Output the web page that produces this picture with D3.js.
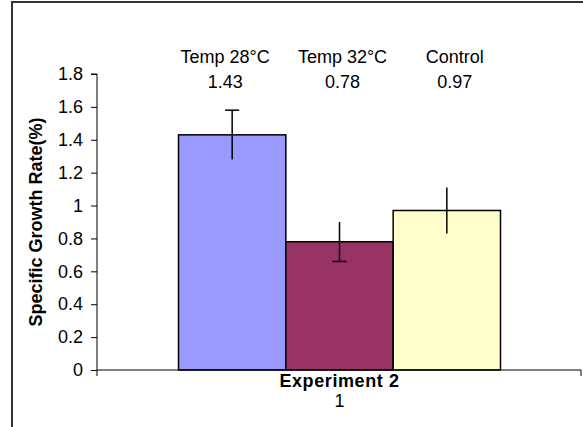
<!DOCTYPE html>
<html><head><meta charset="utf-8">
<script src="https://cdn.jsdelivr.net/npm/d3@7/dist/d3.min.js"></script>
<style>body{margin:0;background:#fff;}svg{display:block;font-family:"Liberation Sans",Arial,sans-serif;}</style>
</head><body>
<svg id="c" width="583" height="427"></svg>
<script>
const groups = ["1"];
const groupTitle = "Experiment 2";
const series = ["Temp 28°C", "Temp 32°C", "Control"];
const values = [1.43, 0.78, 0.97];
const errors = [0.15, 0.12, 0.14];
const capTop = [true, false, false];
const capBottom = [false, true, false];
const colors = ["#9999FF", "#993366", "#FFFFCC"];
const yTicks = [0, 0.2, 0.4, 0.6, 0.8, 1, 1.2, 1.4, 1.6, 1.8];
const yTitle = "Specific Growth Rate(%)";

const svg = d3.select("#c");
const W = 583, H = 427;
const m = {left: 97, right: 1, top: 74, bottom: 57};
const x0 = d3.scaleBand().domain(groups).range([m.left, W - m.right]).paddingInner(0).paddingOuter(0);
const innerPad = (x0.bandwidth() - 322) / 2;
const x1 = d3.scaleBand().domain(series).range([innerPad, x0.bandwidth() - innerPad]).paddingInner(0).paddingOuter(0);
const y = d3.scaleLinear().domain([0, 1.8]).range([H - m.bottom, m.top]);

// frame
svg.append("path").attr("d", `M12,${H} L12,2 L${W},2`).attr("fill", "none").attr("stroke", "#333").attr("stroke-width", 2);

// y axis
const yAxis = d3.axisLeft(y).tickValues(yTicks).tickSize(6).tickPadding(8).tickFormat(d3.format("~g"));
const gy = svg.append("g").attr("transform", `translate(${m.left},0)`).call(yAxis);
gy.select(".domain").attr("stroke", "#000").attr("d", `M-6,${y(1.8)}H0V${y(0)}`);
gy.selectAll(".tick line").attr("stroke", "#000");
gy.selectAll(".tick text").attr("font-size", 18).attr("fill", "#000").attr("font-family", "Liberation Sans, Arial, sans-serif");

// bars
const g = svg.append("g");
series.forEach((s, i) => {
  const bx = x0(groups[0]) + x1(s);
  g.append("rect").attr("x", bx).attr("y", y(values[i])).attr("width", x1.bandwidth()).attr("height", y(0) - y(values[i]))
    .attr("fill", colors[i]).attr("stroke", "#000").attr("stroke-width", 1.5);
});
// x axis
const xAxis = d3.axisBottom(x0).tickSize(6).tickFormat("");
const gx = svg.append("g").attr("transform", `translate(0,${y(0)})`).call(xAxis);
gx.select(".domain").attr("stroke", "#000").attr("d", `M${m.left},6V0H${W - m.right - 1}V6`);
gx.selectAll(".tick").remove();

// error bars
series.forEach((s, i) => {
  const cx = x0(groups[0]) + x1(s) + x1.bandwidth() / 2;
  const t = y(values[i] + errors[i]), b = y(values[i] - errors[i]);
  g.append("line").attr("x1", cx).attr("x2", cx).attr("y1", t).attr("y2", b).attr("stroke", "#000").attr("stroke-width", 1.5);
  if (capTop[i]) g.append("line").attr("x1", cx - 7).attr("x2", cx + 7).attr("y1", t).attr("y2", t).attr("stroke", "#000").attr("stroke-width", 1.5);
  if (capBottom[i]) g.append("line").attr("x1", cx - 7).attr("x2", cx + 7).attr("y1", b).attr("y2", b).attr("stroke", "#000").attr("stroke-width", 1.5);
});

// top labels
const labelShift = [-7, 3, 8];
series.forEach((s, i) => {
  const cx = x0(groups[0]) + x1(s) + x1.bandwidth() / 2 + labelShift[i];
  svg.append("text").attr("x", cx).attr("y", 63).attr("text-anchor", "middle").attr("font-size", 18).text(s);
  svg.append("text").attr("x", cx).attr("y", 88).attr("text-anchor", "middle").attr("font-size", 18).text(d3.format(".2f")(values[i]));
});

// x titles
const gc = x0(groups[0]) + x0.bandwidth() / 2;
svg.append("text").attr("x", gc).attr("y", 387).attr("text-anchor", "middle").attr("font-size", 18).attr("font-weight", "bold").attr("letter-spacing", 0.6).text(groupTitle);
svg.append("text").attr("x", gc).attr("y", 407).attr("text-anchor", "middle").attr("font-size", 18).text(groups[0]);

// y title
svg.append("text").attr("transform", `translate(42,${(y(0) + y(1.8)) / 2}) rotate(-90)`).attr("text-anchor", "middle")
  .attr("font-size", 18).attr("font-weight", "bold").text(yTitle);
</script>
</body></html>
